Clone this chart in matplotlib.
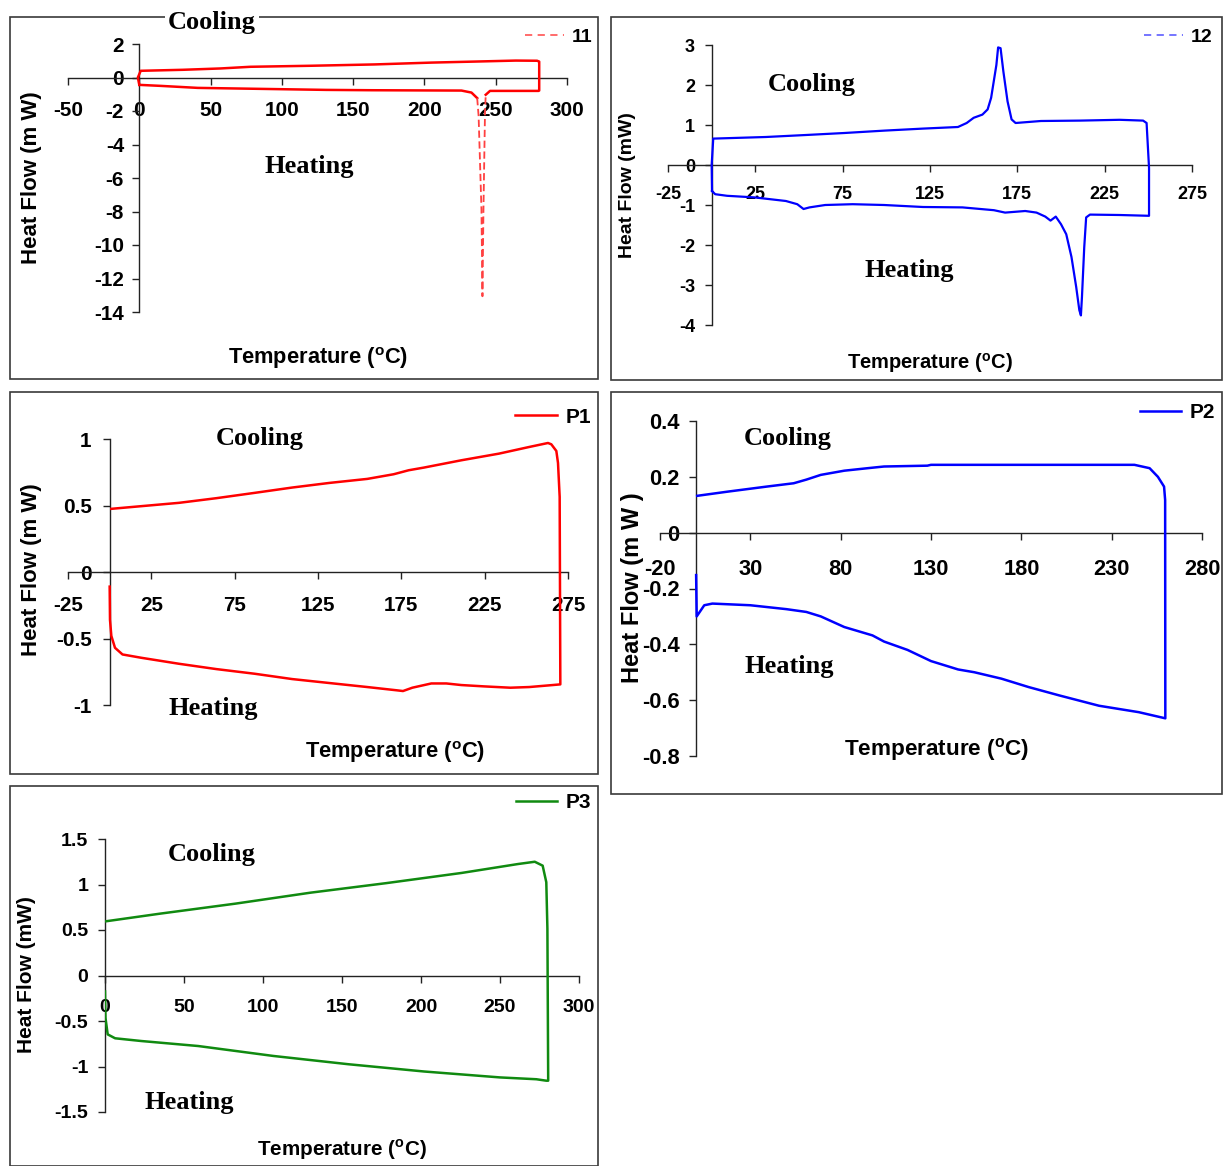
import matplotlib
matplotlib.use('Agg')
import matplotlib.pyplot as plt
from matplotlib import font_manager as fm
from matplotlib.patches import Rectangle
import numpy as np

W, H = 1224, 1166

# ---- sample 11 (red, dashed legend) ----
t11_heat = [0, 15, 41, 86, 131, 163, 226, 233, 237, 238, 239, 240, 240.7, 241.4, 242.5, 243, 246, 280, 280.5]
q11_heat = [-0.44, -0.50, -0.62, -0.68, -0.74, -0.76, -0.78, -0.9, -1.23, -2.3, -5.1, -7.9, -13.06, -7.9, -2.0, -1.03, -0.8, -0.8, -0.78]
t11_cool = [280.5, 279, 264, 235, 205, 165, 120, 78, 57, 30.6, 1, -1, 0]
q11_cool = [0.95, 1.0, 1.01, 0.95, 0.89, 0.78, 0.70, 0.64, 0.54, 0.46, 0.40, 0.0, -0.44]

# ---- sample 12 (blue) ----
t12_heat = [0.2, 2, 8.8, 24.5, 42.5, 49, 52.6, 56, 65, 80.7, 98.7, 121, 143.6, 161.6, 168, 179.5, 186, 191, 194,
            197, 200, 203, 206, 208.7, 210.5, 211.4, 212, 213.3, 214.4, 216.6, 233.5, 250.4]
q12_heat = [-0.65, -0.73, -0.77, -0.81, -0.90, -0.98, -1.10, -1.06, -1.0, -0.98, -1.0, -1.05, -1.06, -1.13, -1.19, -1.15,
            -1.19, -1.29, -1.39, -1.29, -1.48, -1.73, -2.3, -3.05, -3.63, -3.76, -3.3, -2.06, -1.31, -1.24, -1.25, -1.27]
t12_cool = [250.4, 250.4, 249, 247, 233.5, 211, 188.5, 174, 171.7, 169.4, 167, 165.4, 164, 163, 160, 158, 155, 150,
            146, 141, 121, 99, 76, 54, 31, 0.9, 0]
q12_cool = [-1.27, -0.07, 1.05, 1.11, 1.13, 1.11, 1.10, 1.05, 1.14, 1.59, 2.34, 2.92, 2.94, 2.5, 1.68, 1.39, 1.26, 1.18,
            1.05, 0.95, 0.91, 0.86, 0.80, 0.75, 0.70, 0.66, 0.0]

# ---- P1 (red) ----
tp1_heat = [0, 0.2, 1, 3.2, 7.7, 19, 41.6, 64, 87, 109.5, 132, 154.6, 172.6, 176, 181.6, 193, 202, 211, 224.6, 240.4,
            251.7, 263, 270.4]
qp1_heat = [-0.11, -0.36, -0.48, -0.57, -0.62, -0.645, -0.69, -0.73, -0.765, -0.805, -0.835, -0.865, -0.89, -0.895,
            -0.87, -0.838, -0.838, -0.85, -0.86, -0.87, -0.865, -0.853, -0.845]
tp1_cool = [270.4, 270, 269, 268, 265, 263, 251.7, 233.6, 211, 188.5, 179.4, 170.4, 154.6, 132, 109.5, 87, 64, 41.6,
            19, 1]
qp1_cool = [-0.845, 0.565, 0.82, 0.91, 0.96, 0.97, 0.94, 0.89, 0.84, 0.785, 0.765, 0.735, 0.70, 0.67, 0.635, 0.595,
            0.555, 0.52, 0.495, 0.475]

# ---- P2 (blue) ----
tp2_heat = [0, 0.3, 4.5, 9, 30, 50, 61, 69, 82, 97.6, 104, 117, 130, 145, 154, 169, 184, 201, 223, 245, 259.7]
qp2_heat = [-0.152, -0.30, -0.26, -0.254, -0.26, -0.274, -0.284, -0.30, -0.338, -0.368, -0.39, -0.42, -0.46, -0.49,
            -0.50, -0.523, -0.553, -0.583, -0.62, -0.643, -0.665]
tp2_cool = [259.7, 259.6, 259, 255.6, 251, 242.6, 130, 128, 104, 95, 82, 69, 61, 54, 39, 17.5, 0.6]
qp2_cool = [-0.665, 0.117, 0.165, 0.20, 0.231, 0.243, 0.243, 0.24, 0.237, 0.231, 0.222, 0.207, 0.19, 0.177, 0.165,
            0.147, 0.132]

# ---- P3 (green) ----
tp3_heat = [0, 0.3, 1.7, 6.4, 23, 59, 106.5, 154, 202, 250, 273, 279.3, 280.5]
qp3_heat = [-0.175, -0.465, -0.647, -0.69, -0.72, -0.775, -0.884, -0.975, -1.055, -1.12, -1.14, -1.156, -1.156]
tp3_cool = [280.5, 280, 279.3, 277, 272, 261.4, 225.7, 178, 130, 82.7, 35, 0.7]
qp3_cool = [-1.156, 0.516, 1.025, 1.207, 1.25, 1.225, 1.127, 1.015, 0.91, 0.79, 0.68, 0.596]

names = {f.name for f in fm.fontManager.ttflist}
NARROW = 'Liberation Sans Narrow' if 'Liberation Sans Narrow' in names else 'Liberation Sans'
k = 1.0 if NARROW == 'Liberation Sans Narrow' else 0.9
SANS = 'Liberation Sans'
SERIF = 'Liberation Serif'

plt.rcParams['mathtext.fontset'] = 'custom'
plt.rcParams['mathtext.rm'] = 'Liberation Sans:bold'
plt.rcParams['mathtext.bf'] = 'Liberation Sans:bold'

fig = plt.figure(figsize=(W / 100, H / 100), dpi=100)


def fx(x):
    return x / W


def fy(y):
    return 1 - y / H


def box(x0, y0, x1, y1):
    fig.add_artist(Rectangle((fx(x0), fy(y1)), (x1 - x0) / W, (y1 - y0) / H, transform=fig.transFigure,
                             fill=False, ec='#3a3a3a', lw=1.2))


def make_axes(left, right, top, bottom, xlim, ylim, xticks, yticks, font, size, xpad, ypad):
    ax = fig.add_axes([fx(left), fy(bottom), (right - left) / W, (bottom - top) / H])
    ax.set_xlim(xlim)
    ax.set_ylim(ylim)
    ax.patch.set_alpha(0)
    for s in ('top', 'right'):
        ax.spines[s].set_visible(False)
    ax.spines['left'].set_position(('data', 0))
    ax.spines['bottom'].set_position(('data', 0))
    for s in ('left', 'bottom'):
        ax.spines[s].set_color('#222222')
        ax.spines[s].set_linewidth(1.0)
    ax.set_xticks(xticks, [f'{v:g}' for v in xticks])
    ax.set_yticks(yticks, [f'{v:g}' for v in yticks])
    ax.tick_params(axis='x', direction='out', length=5, width=1, color='#222222', pad=xpad, labelsize=size)
    ax.tick_params(axis='y', direction='out', length=5, width=1, color='#222222', pad=ypad, labelsize=size)
    for lbl in ax.get_xticklabels() + ax.get_yticklabels():
        lbl.set_fontfamily(font)
        lbl.set_fontweight('bold')
    return ax


def label(x, y, s, font, size, rot=0, bg=False):
    t = fig.text(fx(x), fy(y), s, ha='center', va='center', family=font, weight='bold', fontsize=size, rotation=rot)
    if bg:
        t.set_bbox(dict(fc='white', ec='none', pad=2))
    return t


def legend(ax, handle, text, x, y, size):
    ax.legend([handle], [text], loc='center right', bbox_to_anchor=(fx(x), fy(y)), bbox_transform=fig.transFigure,
              frameon=False, handlelength=2.0, handletextpad=0.4, borderpad=0, borderaxespad=0,
              prop=dict(family=SANS, weight='bold', size=size))


# panel 1 : sample 11
box(10, 17, 598, 379)
ax1 = make_axes(68, 567, 44, 312, (-50, 300), (-14, 2), list(range(-50, 301, 50)), list(range(-14, 3, 2)),
                NARROW, 16.5 * k, 12, 6)
h = np.array(t11_heat)
q = np.array(q11_heat)
peak = (h >= 237) & (h <= 243)
i0, i1 = np.where(peak)[0][[0, -1]]
ax1.plot(np.r_[t11_heat[i1:], t11_cool], np.r_[q11_heat[i1:], q11_cool], color='red', lw=1.8, zorder=3)
ax1.plot(t11_heat[:i0 + 1], q11_heat[:i0 + 1], color='red', lw=1.8, zorder=3)
ax1.plot(h[i0:i1 + 1], q[i0:i1 + 1], color='#ff4040', lw=1.3, ls=(0, (4, 2)), zorder=3)
l1, = ax1.plot([], [], color='#ff6060', lw=1.3, ls=(0, (4, 3)))
legend(ax1, l1, '11', 592, 37, 14)
label(212, 22, 'Cooling', SERIF, 19, bg=True)
label(309, 167, 'Heating', SERIF, 19)
label(318, 358, r'Temperature ($^{\mathbf{o}}$C)', NARROW, 17.5 * k)
label(32, 178, 'Heat Flow (m W)', SANS, 16, rot=90)

# panel 2 : sample 12
box(611, 17, 1222, 380)
ax2 = make_axes(668, 1192, 45, 325, (-25, 275), (-4, 3), list(range(-25, 276, 50)), list(range(-4, 4)),
                SANS, 13, 10, 7)
ax2.plot(t12_heat + t12_cool + t12_heat[:1], q12_heat + q12_cool + q12_heat[:1], color='#0000ff', lw=1.6, zorder=3)
l2, = ax2.plot([], [], color='#6a6aff', lw=1.3, ls=(0, (4, 3)))
legend(ax2, l2, '12', 1212, 37, 14)
label(812, 84, 'Cooling', SERIF, 19)
label(909, 271, 'Heating', SERIF, 19)
label(930, 363, r'Temperature ($^{\mathbf{o}}$C)', SANS, 14.5)
label(628, 185, 'Heat Flow (mW)', SANS, 14, rot=90)

# panel 3 : P1
box(10, 392, 598, 774)
ax3 = make_axes(68, 568, 439, 705, (-25, 275), (-1, 1), list(range(-25, 276, 50)), [-1, -0.5, 0, 0.5, 1],
                NARROW, 16.5 * k, 12, 8)
ax3.plot(tp1_heat + tp1_cool, qp1_heat + qp1_cool, color='red', lw=1.8, zorder=3)
l3, = ax3.plot([], [], color='red', lw=1.8)
legend(ax3, l3, 'P1', 591, 417, 15)
label(260, 438, 'Cooling', SERIF, 19)
label(213, 708, 'Heating', SERIF, 19)
label(395, 752, r'Temperature ($^{\mathbf{o}}$C)', NARROW, 17.5 * k)
label(32, 570, 'Heat Flow (m W)', SANS, 16, rot=90)

# panel 4 : P2
box(611, 392, 1222, 794)
ax4 = make_axes(660, 1202, 421, 756, (-20, 280), (-0.8, 0.4), list(range(-20, 281, 50)),
                [-0.8, -0.6, -0.4, -0.2, 0, 0.2, 0.4], NARROW, 17.5 * k, 14, 7)
ax4.plot(tp2_heat + tp2_cool, qp2_heat + qp2_cool, color='#0000ff', lw=1.8, zorder=3)
l4, = ax4.plot([], [], color='#0000ff', lw=1.8)
legend(ax4, l4, 'P2', 1215, 413, 15)
label(788, 438, 'Cooling', SERIF, 19)
label(789, 667, 'Heating', SERIF, 19)
label(937, 749, r'Temperature ($^{\mathbf{o}}$C)', NARROW, 18 * k)
label(632, 588, 'Heat Flow (m W )', SANS, 17, rot=90)

# panel 5 : P3
box(10, 786, 598, 1166)
ax5 = make_axes(105, 579, 839, 1112, (0, 300), (-1.5, 1.5), list(range(0, 301, 50)),
                [-1.5, -1, -0.5, 0, 0.5, 1, 1.5], SANS, 14, 12, 7)
ax5.plot(tp3_heat + tp3_cool, qp3_heat + qp3_cool, color='#108a10', lw=1.8, zorder=3)
l5, = ax5.plot([], [], color='#108a10', lw=1.8)
legend(ax5, l5, 'P3', 591, 803, 15)
label(212, 854, 'Cooling', SERIF, 19)
label(189, 1103, 'Heating', SERIF, 19)
label(342, 1150, r'Temperature ($^{\mathbf{o}}$C)', NARROW, 16.5 * k)
label(27, 975, 'Heat Flow (mW)', SANS, 15, rot=90)

fig.savefig('out.png', dpi=100)
